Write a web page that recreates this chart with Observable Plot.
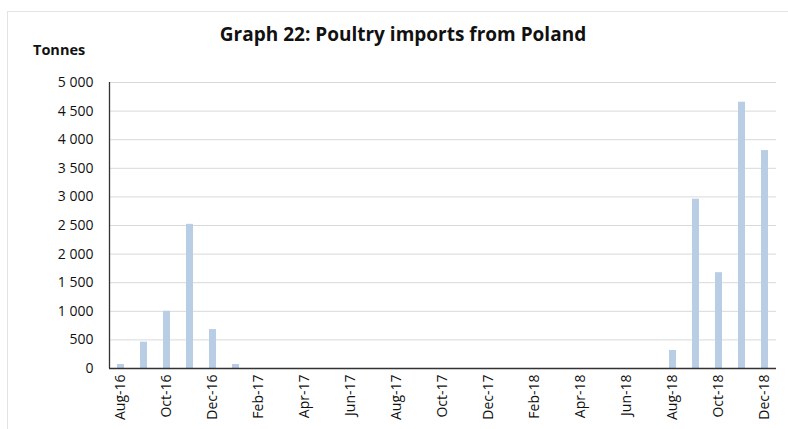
<!DOCTYPE html>
<html><head><meta charset="utf-8">
<script src="https://cdn.jsdelivr.net/npm/d3@7"></script>
<script src="https://cdn.jsdelivr.net/npm/@observablehq/plot@0.6"></script>
<style>
body{margin:0;background:#fff;font-family:"Open Sans",sans-serif;}
#wrap{position:relative;width:788px;height:429px;overflow:hidden;}
#frame{position:absolute;left:7px;top:11px;width:790px;height:430px;border-top:1.5px solid #e3e3e3;border-left:1.5px solid #e3e3e3;}
#title{position:absolute;left:0;width:806px;top:21px;text-align:center;font-weight:bold;font-size:19px;color:#111;}
#unit{position:absolute;left:33px;top:40px;font-weight:bold;font-size:14.5px;color:#111;}
#chart{position:absolute;left:0;top:0;}
</style></head>
<body>
<div id="wrap">
<div id="frame"></div>
<div id="title">Graph 22: Poultry imports from Poland</div>
<div id="unit">Tonnes</div>
<div id="chart"></div>
</div>
<script>
const months = ["Aug-16","Sep-16","Oct-16","Nov-16","Dec-16","Jan-17","Feb-17","Mar-17","Apr-17","May-17","Jun-17","Jul-17","Aug-17","Sep-17","Oct-17","Nov-17","Dec-17","Jan-18","Feb-18","Mar-18","Apr-18","May-18","Jun-18","Jul-18","Aug-18","Sep-18","Oct-18","Nov-18","Dec-18"];
const tonnes = [70,460,1000,2520,680,70,0,0,0,0,0,0,0,0,0,0,0,0,0,0,0,0,0,0,315,2960,1675,4655,3810];
const xTickLabels = ["Aug-16","Oct-16","Dec-16","Feb-17","Apr-17","Jun-17","Aug-17","Oct-17","Dec-17","Feb-18","Apr-18","Jun-18","Aug-18","Oct-18","Dec-18"];
const yTicks = [0,500,1000,1500,2000,2500,3000,3500,4000,4500,5000];

const data = months.map((m,i)=>({month:m, value:tonnes[i]}));
const fmt = v => d3.format(",")(v).replace(/,/g," ");

const chart = Plot.plot({
  width: 788, height: 429,
  marginLeft: 109, marginRight: 12, marginTop: 82, marginBottom: 61,
  style: {fontFamily: "Open Sans, sans-serif", fontSize: "14px", color: "#111", background: "transparent"},
  x: {domain: months, paddingInner: 0.7, paddingOuter: 0.35, align: 0.5, ticks: xTickLabels, tickRotate: -90, tickSize: 0, tickPadding: 6, label: null},
  y: {domain: [0,5000], ticks: yTicks, tickFormat: fmt, tickSize: 0, tickPadding: 16, label: null},
  marks: [
    Plot.gridY(yTicks, {stroke: "#d9d9d9", strokeOpacity: 1, strokeWidth: 1}),
    Plot.barY(data, {x: "month", y: "value", fill: "#b9cde5"}),
    Plot.ruleX([months[0]], {stroke: "#333", strokeWidth: 1.3, dx: -11.5, y1: 0, y2: 5000}),
    Plot.ruleY([0], {stroke: "#333", strokeWidth: 1.5})
  ]
});
document.getElementById("chart").appendChild(chart);
</script>
</body></html>
